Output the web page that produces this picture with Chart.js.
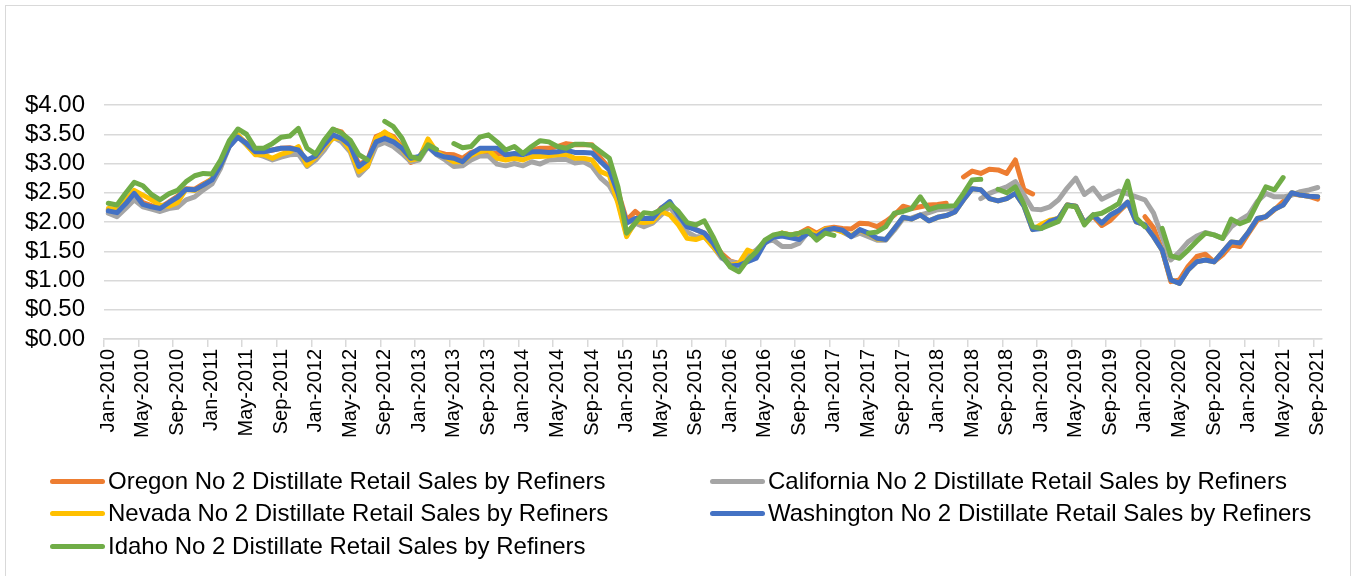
<!DOCTYPE html>
<html><head><meta charset="utf-8">
<script src="https://cdn.jsdelivr.net/npm/chart.js@4.4.1/dist/chart.umd.min.js"></script>
<style>
html,body{margin:0;padding:0;background:#fff;}
#wrap{position:relative;width:1353px;height:576px;overflow:hidden;background:#fff;}
#frame{position:absolute;left:5px;top:5px;width:1346px;height:620px;border:1px solid #d9d9d9;box-sizing:border-box;}
#c{position:absolute;left:0;top:0;}
.lg{position:absolute;font-family:"Liberation Sans",Arial,sans-serif;font-size:24px;color:#000;white-space:nowrap;display:flex;align-items:center;height:30px;}
.lg i{display:inline-block;width:55px;height:5px;border-radius:3px;margin-right:3px;}
</style></head>
<body><div id="wrap"><div id="frame"></div><canvas id="c" width="1353" height="576"></canvas><div id="legend"></div></div>
<script>
const categories = [
"Jan-2010","Feb-2010","Mar-2010","Apr-2010","May-2010","Jun-2010","Jul-2010","Aug-2010","Sep-2010","Oct-2010","Nov-2010","Dec-2010",
"Jan-2011","Feb-2011","Mar-2011","Apr-2011","May-2011","Jun-2011","Jul-2011","Aug-2011","Sep-2011","Oct-2011","Nov-2011","Dec-2011",
"Jan-2012","Feb-2012","Mar-2012","Apr-2012","May-2012","Jun-2012","Jul-2012","Aug-2012","Sep-2012","Oct-2012","Nov-2012","Dec-2012",
"Jan-2013","Feb-2013","Mar-2013","Apr-2013","May-2013","Jun-2013","Jul-2013","Aug-2013","Sep-2013","Oct-2013","Nov-2013","Dec-2013",
"Jan-2014","Feb-2014","Mar-2014","Apr-2014","May-2014","Jun-2014","Jul-2014","Aug-2014","Sep-2014","Oct-2014","Nov-2014","Dec-2014",
"Jan-2015","Feb-2015","Mar-2015","Apr-2015","May-2015","Jun-2015","Jul-2015","Aug-2015","Sep-2015","Oct-2015","Nov-2015","Dec-2015",
"Jan-2016","Feb-2016","Mar-2016","Apr-2016","May-2016","Jun-2016","Jul-2016","Aug-2016","Sep-2016","Oct-2016","Nov-2016","Dec-2016",
"Jan-2017","Feb-2017","Mar-2017","Apr-2017","May-2017","Jun-2017","Jul-2017","Aug-2017","Sep-2017","Oct-2017","Nov-2017","Dec-2017",
"Jan-2018","Feb-2018","Mar-2018","Apr-2018","May-2018","Jun-2018","Jul-2018","Aug-2018","Sep-2018","Oct-2018","Nov-2018","Dec-2018",
"Jan-2019","Feb-2019","Mar-2019","Apr-2019","May-2019","Jun-2019","Jul-2019","Aug-2019","Sep-2019","Oct-2019","Nov-2019","Dec-2019",
"Jan-2020","Feb-2020","Mar-2020","Apr-2020","May-2020","Jun-2020","Jul-2020","Aug-2020","Sep-2020","Oct-2020","Nov-2020","Dec-2020",
"Jan-2021","Feb-2021","Mar-2021","Apr-2021","May-2021","Jun-2021","Jul-2021","Aug-2021","Sep-2021"
];

const oregon = [
2.21,2.18,2.33,2.50,2.33,2.28,2.25,2.34,2.44,2.57,2.56,2.65,
2.73,2.98,3.30,3.46,3.35,3.21,3.20,3.23,3.26,3.27,3.24,2.99,
3.14,3.33,3.58,3.54,3.35,2.99,3.05,3.46,3.52,3.46,3.28,3.02,
3.08,3.31,3.20,3.16,3.15,3.09,3.19,3.23,3.18,3.17,3.15,3.16,
3.17,3.23,3.26,3.26,3.29,3.34,3.32,3.32,3.32,3.09,2.92,2.52,
2.03,2.18,2.06,2.06,2.24,2.32,2.14,1.94,1.87,1.81,1.66,1.46,
1.33,1.29,1.38,1.44,1.64,1.75,1.81,1.78,1.81,1.89,1.81,1.89,
1.91,1.89,1.88,1.98,1.97,1.92,2.01,2.12,2.27,2.23,2.26,2.29,
2.30,2.32,null,2.77,2.87,2.83,2.90,2.89,2.83,3.06,2.55,2.48,
null,2.01,2.06,2.29,2.27,1.98,2.10,1.94,2.03,2.18,2.32,null,
2.09,1.90,1.52,0.98,1.01,1.24,1.41,1.45,1.32,1.44,1.61,1.58,
1.81,2.03,2.09,2.21,2.35,2.48,2.46,2.44,2.39
];

const california = [
2.15,2.09,2.23,2.38,2.26,2.22,2.18,2.23,2.25,2.38,2.43,2.55,
2.65,2.92,3.29,3.46,3.32,3.17,3.12,3.06,3.11,3.15,3.16,2.95,
3.06,3.23,3.45,3.37,3.20,2.80,2.95,3.30,3.36,3.29,3.17,3.03,
3.06,3.29,3.15,3.06,2.95,2.96,3.06,3.13,3.13,2.99,2.96,3.00,
2.96,3.03,2.99,3.06,3.07,3.07,3.01,3.03,2.95,2.75,2.62,2.36,
1.78,1.98,1.92,1.98,2.12,2.26,2.06,1.83,1.75,1.75,1.58,1.38,
1.32,1.29,1.41,1.52,1.66,1.69,1.58,1.58,1.64,1.83,1.75,1.86,
1.89,1.83,1.75,1.81,1.75,1.69,1.69,1.86,2.06,2.07,2.12,2.16,
2.21,2.22,2.23,null,null,2.40,2.49,2.55,2.60,2.69,2.46,2.22,
2.21,2.26,2.38,2.58,2.75,2.47,2.58,2.39,2.46,2.53,2.48,2.43,
2.38,2.15,1.75,1.35,1.49,1.66,1.76,1.82,1.78,1.72,1.92,2.03,
2.12,2.35,2.49,2.43,2.43,2.46,2.52,2.55,2.59
];

const nevada = [
2.23,2.22,2.36,2.54,2.46,2.38,2.29,2.27,2.33,2.56,2.54,2.63,
2.74,2.97,3.32,3.49,3.32,3.15,3.15,3.09,3.16,3.20,3.29,2.97,
3.11,3.29,3.43,3.43,3.23,2.86,2.95,3.43,3.54,3.43,3.25,3.06,
3.09,3.42,3.20,3.11,3.03,3.03,3.14,3.20,3.23,3.09,3.06,3.09,
3.06,3.12,3.12,3.13,3.15,3.16,3.09,3.09,3.06,2.86,2.80,2.32,
1.75,2.01,1.99,2.01,2.18,2.12,1.95,1.72,1.70,1.75,1.58,1.41,
1.26,1.29,1.52,1.46,1.66,1.74,1.81,1.78,1.78,1.86,1.78,1.88,
1.88,1.83,1.77,1.86,1.80,1.71,1.70,1.89,2.08,2.05,2.12,2.02,
2.08,2.11,2.17,2.38,2.57,2.55,2.40,2.36,2.40,2.49,2.27,1.87,
1.96,2.03,2.06,2.29,2.27,1.98,2.12,1.98,2.12,2.20,2.34,2.00,
1.95,1.75,1.52,1.01,0.95,1.18,1.32,1.35,1.32,1.49,1.66,1.64,
1.83,2.06,2.09,2.22,2.29,2.50,2.46,2.44,2.43
];

const washington = [
2.19,2.16,2.31,2.49,2.30,2.26,2.23,2.33,2.42,2.56,2.55,2.63,
2.72,2.97,3.29,3.45,3.34,3.20,3.20,3.23,3.26,3.26,3.23,3.06,
3.13,3.32,3.49,3.43,3.31,2.95,3.06,3.37,3.43,3.37,3.26,3.09,
3.12,3.29,3.16,3.11,3.09,3.03,3.17,3.26,3.26,3.26,3.15,3.17,
3.15,3.20,3.20,3.19,3.20,3.23,3.19,3.19,3.18,3.03,2.89,2.49,
1.98,2.06,2.06,2.06,2.23,2.35,2.12,1.92,1.87,1.81,1.64,1.41,
1.25,1.26,1.32,1.38,1.64,1.74,1.76,1.73,1.70,1.81,1.75,1.86,
1.89,1.86,1.75,1.87,1.81,1.72,1.70,1.89,2.08,2.05,2.12,2.02,
2.08,2.11,2.17,2.38,2.57,2.55,2.40,2.36,2.40,2.49,2.27,1.87,
1.89,2.01,2.06,2.29,2.27,1.98,2.12,1.98,2.12,2.20,2.34,2.00,
1.95,1.75,1.52,1.01,0.95,1.18,1.32,1.35,1.32,1.49,1.66,1.64,
1.83,2.06,2.09,2.22,2.29,2.50,2.46,2.44,2.43
];

const idaho = [
2.32,2.29,2.49,2.68,2.62,2.47,2.38,2.48,2.54,2.69,2.79,2.83,
2.82,3.06,3.39,3.59,3.50,3.26,3.26,3.34,3.45,3.47,3.60,3.26,
3.16,3.40,3.59,3.52,3.40,3.15,3.06,null,3.72,3.63,3.43,3.12,
3.08,3.32,3.24,null,3.34,3.27,3.29,3.45,3.49,3.37,3.23,3.29,
3.17,3.29,3.39,3.37,3.29,3.26,3.33,3.33,3.31,3.20,3.09,2.60,
1.81,1.98,2.16,2.14,2.21,2.31,2.18,1.99,1.95,2.02,1.75,1.44,
1.23,1.15,1.35,1.49,1.69,1.78,1.81,1.78,1.81,1.85,1.69,1.81,
1.77,null,null,null,1.81,1.83,1.92,2.15,2.18,2.23,2.43,2.21,
2.26,2.27,2.28,2.49,2.72,2.73,null,2.56,2.50,2.60,2.30,1.92,
1.89,1.95,2.01,2.28,2.26,1.95,2.12,2.15,2.23,2.32,2.70,2.07,
1.92,null,1.89,1.42,1.38,1.52,1.67,1.81,1.78,1.72,2.05,1.97,
2.03,2.32,2.60,2.55,2.76,null,null,null,null
];

const seriesNames = [
"Oregon No 2 Distillate Retail Sales by Refiners",
"California No 2 Distillate Retail Sales by Refiners",
"Nevada No 2 Distillate Retail Sales by Refiners",
"Washington No 2 Distillate Retail Sales by Refiners",
"Idaho No 2 Distillate Retail Sales by Refiners"
];
const seriesColors = ["#ED7D31","#A5A5A5","#FFC000","#4472C4","#70AD47"];
const seriesData = [oregon, california, nevada, washington, idaho];
const yTicks = [0,0.5,1,1.5,2,2.5,3,3.5,4];

const FONT = '"Liberation Sans", Arial, sans-serif';

const datasets = seriesData.map((d,k)=>({
  label: seriesNames[k],
  data: d,
  borderColor: seriesColors[k],
  backgroundColor: seriesColors[k],
  borderWidth: 5,
  pointRadius: 0,
  pointHoverRadius: 0,
  tension: 0,
  fill: false,
  spanGaps: false,
  borderJoinStyle: 'round',
  borderCapStyle: 'round',
  order: seriesData.length - 1 - k
}));

new Chart(document.getElementById('c'), {
  type: 'line',
  data: { labels: categories, datasets },
  options: {
    responsive: false,
    animation: false,
    layout: { padding: { left: 0, right: 31, top: 105, bottom: 0 } },
    plugins: { legend: { display: false }, tooltip: { enabled: false } },
    scales: {
      x: {
        type: 'category',
        offset: true,
        ticks: {
          autoSkip: false, minRotation: 90, maxRotation: 90, padding: 2,
          color: '#000', font: { family: FONT, size: 20 },
          callback: function(v, i){ return i % 4 === 0 ? this.getLabelForValue(v) : ''; }
        },
        grid: {
          offset: true, drawOnChartArea: false, drawTicks: true, tickLength: 8,
          lineWidth: 1.5,
          color: (ctx) => (ctx.index % 4 === 0 ? '#d9d9d9' : 'rgba(0,0,0,0)')
        },
        border: { display: true, color: '#d9d9d9', width: 1.5 },
        afterFit: (s) => { s.height = 237; }
      },
      y: {
        min: 0, max: 4,
        afterBuildTicks: (s) => { s.ticks = yTicks.map(v => ({ value: v })); },
        ticks: {
          autoSkip: false, padding: 19, color: '#000', font: { family: FONT, size: 24 },
          callback: (v) => '$' + Number(v).toFixed(2)
        },
        grid: { color: '#d9d9d9', lineWidth: 1.5, drawTicks: false },
        border: { display: false },
        afterFit: (s) => { s.width = 104; }
      }
    }
  }
});

// HTML legend (two columns, Excel-like order)
const legendPos = [[50,481],[710,481],[50,513],[710,513],[50,546]];
const lg = document.getElementById('legend');
seriesNames.forEach((name,k)=>{
  const d = document.createElement('div');
  d.className = 'lg';
  d.style.left = legendPos[k][0] + 'px';
  d.style.top = (legendPos[k][1] - 15) + 'px';
  const sw = document.createElement('i');
  sw.style.background = seriesColors[k];
  d.appendChild(sw);
  d.appendChild(document.createTextNode(name));
  lg.appendChild(d);
});
</script>
</body></html>
